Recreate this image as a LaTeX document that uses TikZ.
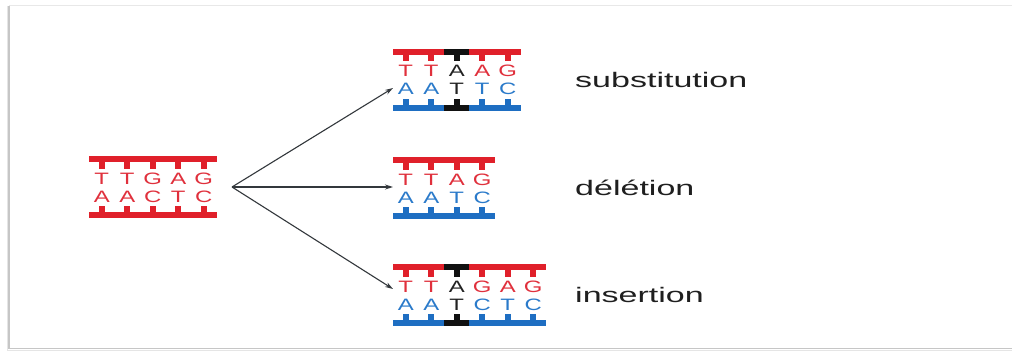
\documentclass[tikz,border=0pt]{standalone}
\usepackage{fontspec}
\usetikzlibrary{arrows.meta}
\newfontfamily\basefont[FakeStretch=1.45]{Liberation Sans}
\newfontfamily\labelfont[FakeStretch=1.62]{Liberation Sans}
% backbone (bar) and base (txt) colours: r = red, b = blue, k = black
\definecolor{barr}{HTML}{E0202A}
\definecolor{txtr}{HTML}{E0303C}
\definecolor{barb}{HTML}{1E6EC2}
\definecolor{txtb}{HTML}{2A7ACA}
\definecolor{bark}{HTML}{111111}
\definecolor{txtk}{HTML}{222222}
\definecolor{arrowgray}{HTML}{33383C}
\tikzset{
  base/.style={font=\basefont\fontsize{16.5}{16.5}\selectfont, inner sep=0pt, anchor=base},
  mutlabel/.style={font=\labelfont\fontsize{21}{21}\selectfont, text=black!88, inner sep=0pt, anchor=base west},
  mutarrow/.style={draw=arrowgray, line width=1.1pt, -{Stealth[length=8pt,width=5pt]}},
  frameline/.style={draw=gray!45, line width=1.2pt},
}
% #1 name, #2 left x, #3 top backbone y,
% #4 list of columns: top base / bottom base / top colour / bottom colour
\newcommand{\ladder}[4]{%
  \foreach [count=\i] \tb/\bb/\ct/\cb in {#4} {
    \pgfmathsetmacro{\xc}{#2+25.5*(\i-1)+12.75}
    % upper strand: backbone segment and tick
    \fill[bar\ct] (\xc-12.8,#3-3.2) rectangle (\xc+12.8,#3+3.2);
    \fill[bar\ct] (\xc-2.8,#3) rectangle (\xc+2.8,#3+9.5);
    % lower strand: tick and backbone segment
    \fill[bar\cb] (\xc-2.8,#3+46.5) rectangle (\xc+2.8,#3+56);
    \fill[bar\cb] (\xc-12.8,#3+52.8) rectangle (\xc+12.8,#3+59.2);
    % paired bases
    \node[base, text=txt\ct] (#1-t\i) at (\xc,#3+25) {\tb};
    \node[base, text=txt\cb] (#1-b\i) at (\xc,#3+43) {\bb};
  }%
}
\begin{document}
\begin{tikzpicture}[x=1pt,y=-1pt]
\useasboundingbox (0,0) rectangle (1012,353);
\fill[white] (0,0) rectangle (1012,353);
% panel frame
\draw[draw=gray!18, line width=1pt] (9,6) -- (1020,6);
\draw[frameline] (9,6) -- (9,348.5) -- (1020,348.5);
\draw[draw=gray!20, line width=1pt] (7,6) -- (7,350.5) -- (1020,350.5);

% original sequence
\ladder{orig}{89}{159}{T/A/r/r, T/A/r/r, G/C/r/r, A/T/r/r, G/C/r/r}
% substitution
\ladder{sub}{393}{52}{T/A/r/b, T/A/r/b, A/T/k/k, A/T/r/b, G/C/r/b}
% deletion
\ladder{del}{393}{160}{T/A/r/b, T/A/r/b, A/T/r/b, G/C/r/b}
% insertion
\ladder{ins}{393}{267}{T/A/r/b, T/A/r/b, A/T/k/k, G/C/r/b, A/T/r/b, G/C/r/b}

% arrows from the original to each mutant
\coordinate (src) at (232,187);
\coordinate (sub-in) at (393,88);
\coordinate (del-in) at (393,187);
\coordinate (ins-in) at (393,289);
\draw[mutarrow] (src) -- (sub-in);
\draw[mutarrow] (src) -- (del-in);
\draw[mutarrow] (src) -- (ins-in);

% mutation names
\node[mutlabel] (lsub) at (575,88) {substitution};
\node[mutlabel] (ldel) at (575,195) {délétion};
\node[mutlabel] (lins) at (575,302) {insertion};
\end{tikzpicture}
\end{document}
